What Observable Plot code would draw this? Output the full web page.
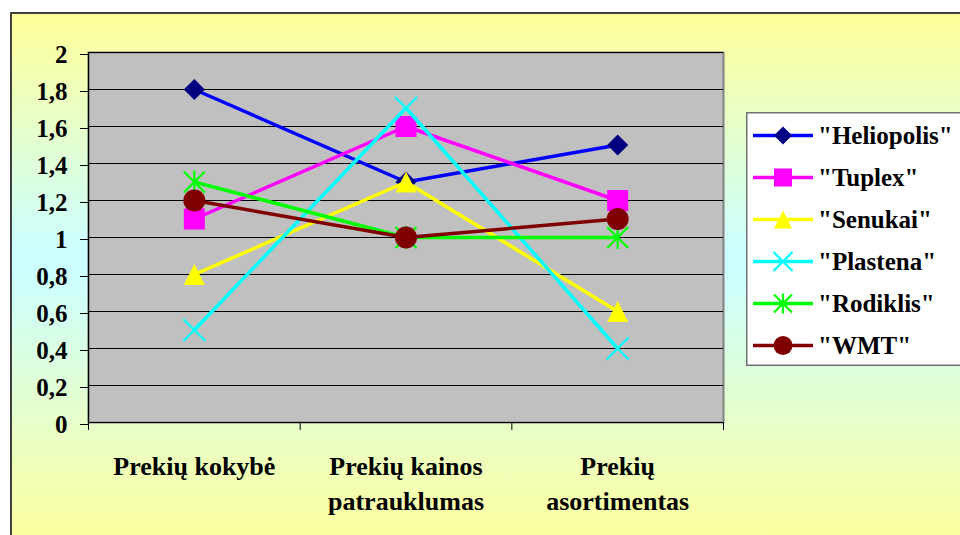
<!DOCTYPE html>
<html>
<head>
<meta charset="utf-8">
<script src="https://cdn.jsdelivr.net/npm/d3@7"></script>
<script src="https://cdn.jsdelivr.net/npm/@observablehq/plot@0.6"></script>
<style>
  html, body { margin: 0; padding: 0; background: #fff; width: 960px; height: 535px; overflow: hidden; }
  #panel {
    position: absolute; left: 10px; top: 12px; width: 970px; height: 560px;
    border: 2px solid #404040; box-sizing: border-box;
    background: linear-gradient(to bottom, #ffff99 0px, #ccffff 235px, #ccffff 260px, #ffff99 540px);
  }
  #chart { position: absolute; left: 0; top: 0; }
  #legend { position: absolute; left: 746px; top: 112px; }
</style>
</head>
<body>
<div id="panel"></div>
<div id="chart"></div>
<div id="legend"></div>
<script>
// Evaluation criteria (x axis)
const categories = ["Prekių kokybė", "Prekių kainos\npatrauklumas", "Prekių\nasortimentas"];
// Company names
const seriesNames = ["\"Heliopolis\"", "\"Tuplex\"", "\"Senukai\"", "\"Plastena\"", "\"Rodiklis\"", "\"WMT\""];
// Scores per company, one per criterion
const heliopolis = [1.8, 1.3, 1.5];
const tuplex = [1.1, 1.6, 1.2];
const senukai = [0.8, 1.3, 0.6];
const plastena = [0.5, 1.7, 0.4];
const rodiklis = [1.3, 1.0, 1.0];
const wmt = [1.2, 1.0, 1.1];
// Y axis ticks
const yTicks = [0, 0.2, 0.4, 0.6, 0.8, 1, 1.2, 1.4, 1.6, 1.8, 2];

const seriesValues = [heliopolis, tuplex, senukai, plastena, rodiklis, wmt];

// Marker shapes, drawn around the origin; size is r*r*PI as Plot passes it
const rOf = size => Math.sqrt(size / Math.PI);
const diamond = { draw(c, size) { const s = rOf(size); c.moveTo(0, -s); c.lineTo(s, 0); c.lineTo(0, s); c.lineTo(-s, 0); c.closePath(); } };
const square = { draw(c, size) { const s = rOf(size); c.rect(-s, -s, 2 * s, 2 * s); } };
const triangle = { draw(c, size) { const s = rOf(size); c.moveTo(0, -s); c.lineTo(s, s); c.lineTo(-s, s); c.closePath(); } };
const cross = { draw(c, size) { const s = rOf(size); c.moveTo(-s, -s); c.lineTo(s, s); c.moveTo(s, -s); c.lineTo(-s, s); } };
const star = { draw(c, size) { const s = rOf(size); c.moveTo(-s, -s); c.lineTo(s, s); c.moveTo(s, -s); c.lineTo(-s, s); c.moveTo(0, -s * 1.1); c.lineTo(0, s * 1.1); } };
const circle = { draw(c, size) { const s = rOf(size); c.moveTo(s, 0); c.arc(0, 0, s, 0, 2 * Math.PI); } };

const styles = [
  { line: "#0000ff", symbol: diamond, fill: "#000080", stroke: "none", r: 10.5 },
  { line: "#ff00ff", symbol: square, fill: "#ff00ff", stroke: "none", r: 10.5 },
  { line: "#ffff00", symbol: triangle, fill: "#ffff00", stroke: "none", r: 10.5 },
  { line: "#00ffff", symbol: cross, fill: "none", stroke: "#00ffff", r: 11 },
  { line: "#00ff00", symbol: star, fill: "none", stroke: "#00ff00", r: 10.5 },
  { line: "#800000", symbol: circle, fill: "#800000", stroke: "none", r: 11 }
];

// Long table: one row per company and criterion; categories sit at band centers i + 0.5
const rows = seriesNames.flatMap((name, s) =>
  seriesValues[s].map((v, i) => ({ name, s, x: i + 0.5, value: v })));

const font = "Liberation Serif, Times New Roman, serif";

const marks = [
  Plot.frame({ fill: "#c0c0c0", stroke: "#808080", strokeWidth: 2 }),
  Plot.ruleY(yTicks, { stroke: "#000", strokeWidth: 1.2 }),
  Plot.ruleX([0], { stroke: "#000", strokeWidth: 1.2 }),
  Plot.axisY({ ticks: yTicks, tickSize: 8, tickPadding: 13, dy: 2, tickFormat: d => String(d).replace(".", ","),
    fontSize: 25, fontWeight: "bold", fontFamily: font, label: null, stroke: "#000", fill: "#000" }),
  Plot.axisX({ ticks: [0, 1, 2, 3], tickSize: 8, tickFormat: () => "", label: null, stroke: "#000" }),
  Plot.axisX({ ticks: [0.5, 1.5, 2.5], tickSize: 0, tickPadding: 28, tickFormat: d => categories[Math.floor(d)],
    fontSize: 26, fontWeight: "bold", fontFamily: font, lineHeight: 1.33, label: null, fill: "#000" })
];

seriesNames.forEach((name, s) => {
  const st = styles[s];
  const data = rows.filter(d => d.s === s);
  marks.push(Plot.line(data, { x: "x", y: "value", stroke: st.line, strokeWidth: 3.5 }));
  marks.push(Plot.dot(data, { x: "x", y: "value", symbol: () => st.symbol, r: st.r,
    fill: st.fill, stroke: st.stroke, strokeWidth: 2.2 }));
});

const chart = Plot.plot({
  width: 960, height: 535,
  marginLeft: 88, marginRight: 237, marginTop: 52, marginBottom: 113,
  style: { background: "transparent", overflow: "visible" },
  x: { type: "linear", domain: [0, 3] },
  y: { domain: [0, 2] },
  symbol: { type: "identity" },
  marks
});
document.getElementById("chart").append(chart);

// Legend: a swatch of each series' line and marker beside its name
const lsvg = d3.select("#legend").append("svg")
  .attr("width", 230).attr("height", 254).style("display", "block");
lsvg.append("rect").attr("x", 0.75).attr("y", 0.75).attr("width", 240).attr("height", 252.5)
  .attr("fill", "#fff").attr("stroke", "#707070").attr("stroke-width", 1.5);
seriesNames.forEach((name, s) => {
  const st = styles[s];
  const cy = 23.5 + 42 * s;
  const g = lsvg.append("g").attr("transform", `translate(0,${cy})`);
  g.append("line").attr("x1", 7).attr("x2", 67).attr("y1", 0).attr("y2", 0)
    .attr("stroke", st.line).attr("stroke-width", 3.5);
  g.append("path").attr("transform", "translate(37,0)")
    .attr("d", d3.symbol(st.symbol, (st.r - 1.5) * (st.r - 1.5) * Math.PI)())
    .attr("fill", st.fill).attr("stroke", st.stroke).attr("stroke-width", 2.2);
  g.append("text").attr("x", 72).attr("y", 8.5)
    .attr("font-family", font).attr("font-weight", "bold").attr("font-size", 25)
    .attr("fill", "#000").text(name);
});
</script>
</body>
</html>
